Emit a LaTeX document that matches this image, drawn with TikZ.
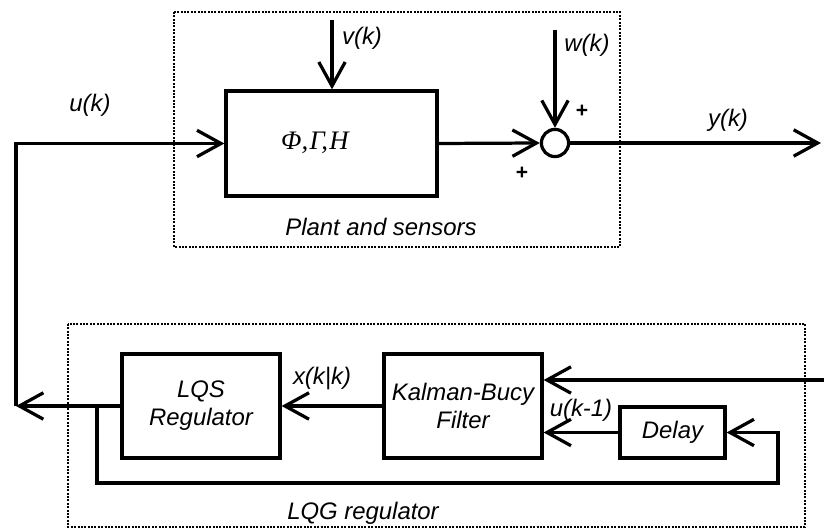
\documentclass[tikz,border=0pt]{standalone}
\usepackage{fontspec}
\setmainfont{Liberation Sans}
\newfontfamily\greekfont{Liberation Serif}
\usepackage{tikz}
\usetikzlibrary{arrows.meta,calc}

\tikzset{
  blk/.style={draw, line width=2.3pt, inner sep=2pt, align=center},
  sig/.style={line width=2.3pt, -{Straight Barb[length=0.6cm,width=0.66cm]}},
  grp/.style={densely dotted, line width=1.4pt},
  pm/.style={font=\fontsize{15}{17}\selectfont\bfseries},
}

\begin{document}
\begin{tikzpicture}[x=0.025cm,y=-0.025cm,font=\fontsize{17}{20}\selectfont\itshape]
    \useasboundingbox (0,0) rectangle (824,530);

    % dotted frames
    \draw [grp] (174,12) rectangle (620,247);
    \draw [grp] (68,324) rectangle (805,527);

    % blocks
    \node [blk, minimum width=5.275cm, minimum height=2.625cm] (plant) at (331.5,143.5) {};
    \node [draw, circle, line width=2.3pt, minimum size=0.68cm, inner sep=0pt] (sum) at (555,143) {};
    \node [blk, minimum width=3.95cm, minimum height=2.6cm] (lqs) at (201,406) {LQS\\Regulator};
    \node [blk, minimum width=3.95cm, minimum height=2.6cm] (kbf) at (463,406) {Kalman-Bucy\\Filter};
    \node [blk, minimum width=2.625cm, minimum height=1.275cm] (delay) at (672.5,432.5) {Delay};
    \node [font=\fontsize{19}{22}\greekfont\itshape] (model) at (315,143) {Φ,\kern1ptΓ,\kern1ptH};

    % free ends
    \coordinate (vin) at (332,20);
    \coordinate (win) at (555,30);
    \coordinate (yout) at (821,143);
    \coordinate (yin) at (824,380);
    \coordinate (uout) at (16,406);
    \coordinate (br) at (97,406);
    \coordinate (loop) at (778,483);

    % plant and sensors
    \draw [sig] (vin) -- (vin |- plant.north);
    \draw [sig] (win) -- (sum.north);
    \draw [sig] (plant.east) -- (sum.west);
    \draw [sig] (sum.east) -- (yout);
    \draw [sig] (uout) |- (plant.west);

    % LQG regulator
    \draw [sig] (lqs.west) -- (uout);
    \draw [sig] (kbf.west) -- (lqs.east);
    \draw [sig] (yin) -- (yin -| kbf.east);
    \draw [sig] (delay.west) -- (delay.west -| kbf.east);
    \draw [sig] (br) |- (loop) |- (delay.east);

    % labels
    \node (ulbl) at (90,105) {u(k)};
    \node (vlbl) at (362,38) {v(k)};
    \node (wlbl) at (587,45) {w(k)};
    \node (ylbl) at (728,120) {y(k)};
    \node [pm] (p1) at (582,111) {+};
    \node [pm] (p2) at (522,173) {+};
    \node (xlbl) at (322,378) {x(k|k)};
    \node (dlbl) at (581,410) {u(k-1)};
    \node (plbl) at (381,227) {Plant and sensors};
    \node (glbl) at (363,513) {LQG regulator};
\end{tikzpicture}
\end{document}
